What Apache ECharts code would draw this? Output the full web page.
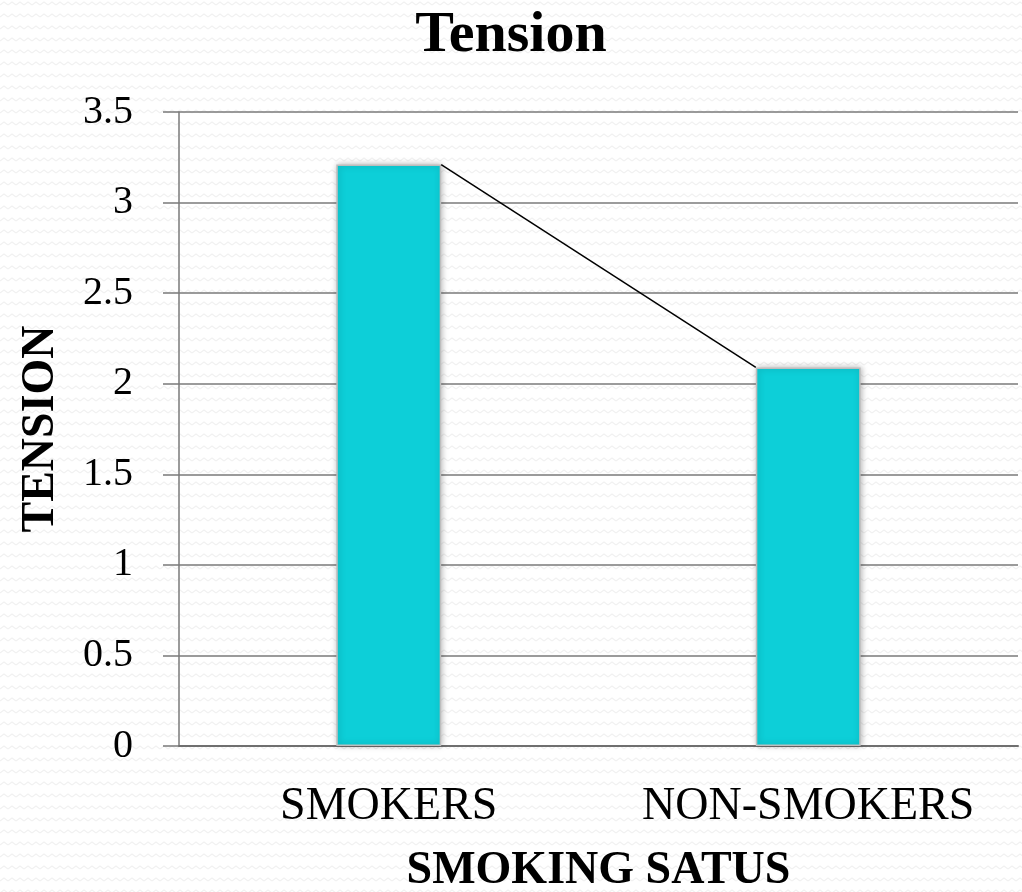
<!DOCTYPE html>
<html>
<head>
<meta charset="utf-8">
<title>Tension</title>
<script src="https://cdn.jsdelivr.net/npm/echarts@6/dist/echarts.min.js"></script>
<style>
  html, body { margin: 0; padding: 0; overflow: hidden; width: 100%; height: 100%; }
  body {
    background-color: #ffffff;
    background-image: url("data:image/svg+xml;utf8,<svg xmlns='http://www.w3.org/2000/svg' width='8' height='12'><path d='M0 5 L4 2 L8 5' fill='none' stroke='%23f1f1f1' stroke-width='1.2'/></svg>");
  }
  #chart { position: absolute; left: 0; top: 0; width: 1022px; height: 892px; }
</style>
</head>
<body>
<div id="chart"></div>
<script>
// Mean tension score by smoking status
const categories = ['SMOKERS', 'NON-SMOKERS'];
const tension = [3.21, 2.09];
const yTicks = { min: 0, max: 3.5, interval: 0.5 };

const FONT = '"Liberation Serif", "Times New Roman", serif';
const BAR_RATIO = 0.25; // bar width as a share of the category band

const chart = echarts.init(document.getElementById('chart'), null, { renderer: 'canvas' });

// Thin connector from the top-right corner of the first bar to the top-left corner of the second
function renderConnector(params, api) {
  if (params.dataIndex !== 0) return null;
  const band = api.size([1, 0])[0];
  const half = band * BAR_RATIO / 2;
  const p0 = api.coord([0, tension[0]]);
  const p1 = api.coord([1, tension[1]]);
  return {
    type: 'line',
    shape: { x1: p0[0] + half, y1: p0[1], x2: p1[0] - half, y2: p1[1] },
    style: { stroke: '#000000', lineWidth: 1.5 },
    z2: 10
  };
}

chart.setOption({
  backgroundColor: 'transparent',
  animation: false,
  title: {
    text: 'Tension',
    left: 'center',
    top: 2,
    textStyle: { fontFamily: FONT, fontWeight: 'bold', fontSize: 58, color: '#000' }
  },
  grid: { left: 179, top: 112, width: 839, height: 634, containLabel: false, outerBoundsMode: 'none' },
  xAxis: {
    type: 'category',
    data: categories,
    name: 'SMOKING SATUS',
    nameLocation: 'middle',
    nameGap: 102,
    nameTextStyle: { fontFamily: FONT, fontWeight: 'bold', fontSize: 46, color: '#000' },
    axisLine: { show: true, lineStyle: { color: '#6f6f6f', width: 2 } },
    axisTick: { show: false },
    axisLabel: { interval: 0, hideOverlap: false, fontFamily: FONT, fontSize: 46, color: '#000', margin: 38 },
    splitLine: { show: false }
  },
  yAxis: {
    type: 'value',
    min: yTicks.min,
    max: yTicks.max,
    interval: yTicks.interval,
    name: 'TENSION',
    nameLocation: 'middle',
    nameGap: 115,
    nameRotate: 90,
    nameTextStyle: { fontFamily: FONT, fontWeight: 'bold', fontSize: 46, color: '#000' },
    axisLine: { show: true, lineStyle: { color: '#7a7a7a', width: 1.5 } },
    axisTick: { show: true, inside: false, length: 16, lineStyle: { color: '#7a7a7a', width: 1.5 } },
    axisLabel: {
      fontFamily: FONT, fontSize: 40, color: '#000', margin: 46,
      formatter: v => String(v)
    },
    splitLine: { show: true, lineStyle: { color: '#7a7a7a', width: 1.5 } }
  },
  series: [
    {
      type: 'bar',
      data: tension,
      barWidth: (BAR_RATIO * 100) + '%',
      itemStyle: {
        color: '#0dcfd8',
        borderColor: '#bdbdbd',
        borderWidth: 1.5,
        shadowColor: 'rgba(0,0,0,0.28)',
        shadowBlur: 6,
        shadowOffsetX: 1
      },
      z: 2
    },
    {
      type: 'custom',
      data: tension.map((v, i) => [i, v]),
      renderItem: renderConnector,
      silent: true,
      z: 5
    }
  ]
});
</script>
</body>
</html>
